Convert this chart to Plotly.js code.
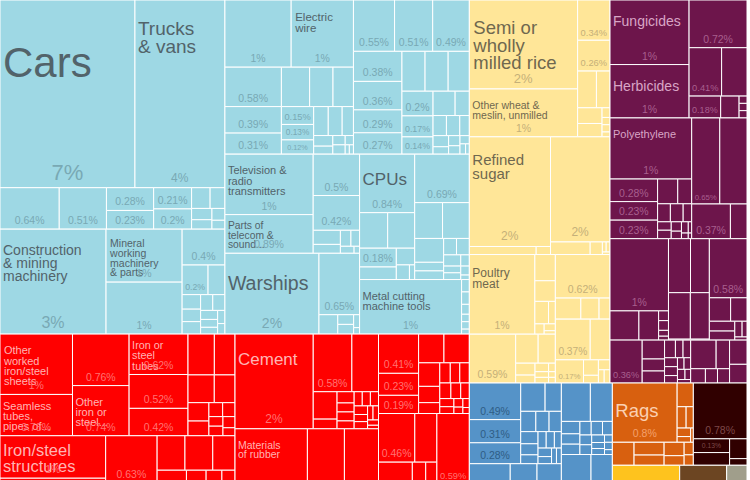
<!DOCTYPE html>
<html><head><meta charset="utf-8">
<script src="https://cdn.plot.ly/plotly-3.0.1.min.js"></script>
<style>
html,body{margin:0;padding:0;overflow:hidden;background:#fff;width:750px;height:480px}
#wrap{width:750px;height:480px;overflow:hidden}
#chart{width:750px;height:520px}
</style>
</head><body><div id="wrap"><div id="chart"></div></div>
<script>
// ---- sectors ----
const sectorIds = ["mach","manuf","food","chem","misc","crude","fuel","bev","oil","oth"];

// ---- product values (% of exports), per product group, largest first ----
const vehicles = [6.6, 4.4, 0.64, 0.51, 0.28, 0.23, 0.21, 0.2, 0.1, 0.08, 0.06, 0.05, 0.04, 0.03];
const vehiclesNames = ["Cars", "Trucks<br>& vans"];
const vehiclesShares = ["7%", "4%", "0.64%", "0.51%", "0.28%", "0.23%", "0.21%", "0.2%"];

const special = [2.9, 1.05, 1.03, 0.4, 0.2, 0.13, 0.07, 0.06, 0.06, 0.05, 0.05, 0.04, 0.035, 0.03, 0.025, 0.02];
const specialNames = ["Construction<br>& mining<br>machinery", "Mineral<br>working<br>machinery<br>& parts"];
const specialShares = ["3%", "1%", "1%", "0.4%", "0.2%"];

const electrical = [1.16, 1.09, 0.58, 0.39, 0.31, 0.29, 0.24, 0.21, 0.15, 0.13, 0.12, 0.11, 0.105, 0.085, 0.053, 0.04, 0.03, 0.03, 0.02, 0.01, 0.01];
const electricalNames = ["", "Electric<br>wire"];
const electricalShares = ["1%", "1%", "0.58%", "0.39%", "0.31%", "", "", "", "0.15%", "0.13%", "0.12%"];

const general = [0.55, 0.51, 0.49, 0.38, 0.36, 0.29, 0.27, 0.24, 0.24, 0.22, 0.2, 0.17, 0.14, 0.14, 0.09, 0.07, 0.07, 0.05, 0.045, 0.03, 0.03, 0.025, 0.02, 0.015, 0.01];
const generalShares = ["0.55%", "0.51%", "0.49%", "0.38%", "0.36%", "0.29%", "0.27%", "", "", "", "0.2%", "0.17%", "0.14%"];

const telecom = [1.39, 0.89, 0.5, 0.42, 0.1, 0.063, 0.044, 0.036, 0.025, 0.01];
const telecomNames = ["Television &<br>radio<br>transmitters", "Parts of<br>telecom &<br>sound..."];
const telecomShares = ["1%", "0.89%", "0.5%", "0.42%"];

const transport = [1.98, 0.65, 0.095, 0.04, 0.04, 0.02, 0.01];
const transportNames = ["Warships"];
const transportShares = ["2%", "0.65%"];

const officeA = [0.84, 0.26, 0.25, 0.18, 0.12, 0.08, 0.05, 0.02];
const officeANames = ["CPUs"];
const officeAShares = ["0.84%", "", "", "0.18%"];

const officeB = [0.69, 0.26, 0.25, 0.18, 0.065, 0.065, 0.055, 0.055, 0.05, 0.03, 0.03, 0.025, 0.02, 0.01];
const officeBShares = ["0.69%"];

const metalwork = [1.45, 0.025, 0.025, 0.02, 0.015, 0.015, 0.01];
const metalworkNames = ["Metal cutting<br>machine tools"];
const metalworkShares = ["1%"];

const ironSteel = [1.14, 0.78, 0.76, 0.74, 0.62, 0.52, 0.42, 0.28, 0.22, 0.19, 0.15, 0.1, 0.08, 0.05, 0.045, 0.035, 0.035, 0.035, 0.025];
const ironSteelNames = ["Other<br>worked<br>iron/steel<br>sheets", "Seamless<br>tubes,<br>pipes of...", "", "Other<br>iron or<br>steel...", "Iron or<br>steel<br>tubes"];
const ironSteelShares = ["1%", "0.78%", "0.76%", "0.74%", "0.62%", "0.52%", "0.42%"];

const metalManuf = [1.17, 1.15, 0.63, 0.5, 0.25, 0.25, 0.2, 0.2, 0.18, 0.15, 0.12, 0.1, 0.08, 0.06, 0.05, 0.04, 0.03];
const metalManufNames = ["Iron/steel<br>structures"];
const metalManufShares = ["1%", "", "0.63%"];

const mineralManuf = [1.93, 0.58, 0.40, 0.17, 0.06, 0.05, 0.04, 0.04, 0.035, 0.03, 0.03, 0.03, 0.03, 0.025, 0.025, 0.02, 0.02, 0.015, 0.01];
const mineralManufNames = ["Cement"];
const mineralManufShares = ["2%", "0.58%"];

const rubber = [1.72, 0.88, 0.81];
const rubberNames = ["Materials<br>of rubber"];

const textiles = [0.41, 0.23, 0.19, 0.19, 0.19, 0.13, 0.09, 0.06, 0.055, 0.05, 0.05, 0.045, 0.04, 0.035, 0.03, 0.025, 0.02, 0.015, 0.015, 0.01];
const textilesShares = ["0.41%", "0.23%", "0.19%"];

const paper = [0.46, 0.28, 0.2, 0.17, 0.14, 0.12, 0.1, 0.08, 0.04, 0.03];
const paperShares = ["0.46%"];

const nonFerrous = [0.59, 0.12, 0.1, 0.06, 0.03];
const nonFerrousShares = ["0.59%"];

const cereals = [2.51, 1.35, 0.34, 0.26, 0.18, 0.13, 0.1, 0.085, 0.02, 0.015, 0.015, 0.01];
const cerealsNames = ["Semi or<br>wholly<br>milled rice", "Other wheat &<br>meslin, unmilled"];
const cerealsShares = ["2%", "1%", "0.34%", "0.26%"];

const sugar = [2.32, 0.14, 0.03];
const sugarNames = ["Refined<br>sugar"];
const sugarShares = ["2%"];

const starch = [1.63, 0.13, 0.04, 0.01, 0.01, 0.005];
const starchShares = ["2%"];

const meat = [1.36, 0.14, 0.11, 0.08, 0.04, 0.025, 0.02, 0.01];
const meatNames = ["Poultry<br>meat"];
const meatShares = ["1%"];

const fish = [0.59, 0.17, 0.13, 0.06, 0.04, 0.03, 0.02, 0.02, 0.015, 0.01, 0.01];
const fishShares = ["0.59%"];

const fruit = [0.62, 0.14, 0.1, 0.06];
const fruitShares = ["0.62%"];

const vegetables = [0.37, 0.21, 0.17, 0.06, 0.03, 0.03, 0.02, 0.02];
const vegetablesShares = ["0.37%", "", "0.17%"];

const pesticides = [1.33, 1.10, 0.72, 0.41, 0.32, 0.18, 0.105, 0.015, 0.015, 0.015];
const pesticidesNames = ["Fungicides", "Herbicides"];
const pesticidesShares = ["1%", "1%", "0.72%", "0.41%", "", "0.18%"];

const plastics = [1.3, 0.28, 0.23, 0.23, 0.13, 0.09, 0.06, 0.06, 0.04, 0.03, 0.03, 0.025, 0.02, 0.02, 0.01, 0.01, 0.005];
const plasticsNames = ["Polyethylene"];
const plasticsShares = ["1%", "0.28%", "0.23%", "0.23%"];

const plastics2 = [0.63, 0.61, 0.35, 0.15];
const plastics2Shares = ["0.65%", "", "0.37%"];

const organic = [1.1, 0.22, 0.15, 0.025, 0.025, 0.015, 0.01];
const organicShares = ["1%"];

const inorganic = [0.31, 0.265, 0.265, 0.23, 0.01];

const pharma = [0.58, 0.13, 0.1, 0.065, 0.06, 0.03, 0.02, 0.01];
const pharmaShares = ["0.58%"];

const chemOther = [0.36, 0.11, 0.07, 0.07, 0.05, 0.035, 0.035, 0.03, 0.03, 0.025, 0.02, 0.02, 0.02, 0.015, 0.012];
const chemOtherShares = ["0.36%"];

const perfumes = [0.19, 0.1, 0.055, 0.045, 0.045];
const dyes = [0.11, 0.085];

const miscA = [0.49, 0.31, 0.28, 0.18, 0.12, 0.08, 0.07, 0.065, 0.055, 0.05, 0.04, 0.035, 0.035, 0.03, 0.03, 0.025, 0.02, 0.02];
const miscAShares = ["0.49%", "0.31%", "0.28%"];
const miscB = [0.36, 0.24, 0.22, 0.2, 0.13, 0.1, 0.1];
const miscC = [0.29, 0.22, 0.06, 0.05, 0.05, 0.04, 0.04, 0.035, 0.03, 0.03, 0.025, 0.02, 0.02, 0.015, 0.015, 0.01];
const miscD = [0.25, 0.18, 0.14, 0.1, 0.08, 0.06, 0.04, 0.02];

const textileFibres = [1.0, 0.1, 0.05, 0.04, 0.03, 0.02, 0.01];
const textileFibresNames = ["Rags"];
const textileFibresShares = ["0.8%"];
const crudeOther = [0.13, 0.1, 0.08, 0.07, 0.05, 0.03, 0.025];

const fuels = [0.78, 0.13, 0.12, 0.09, 0.03];
const fuelsShares = ["0.78%", "0.13%"];

const beverages = [0.6, 0.36];
const oils = [0.5, 0.17];
const others = [0.29];

// ---- group table: [id, sector, values, names, shares] ----
const groups = [
  ["veh","mach",vehicles,vehiclesNames,vehiclesShares],
  ["spec","mach",special,specialNames,specialShares],
  ["elec","mach",electrical,electricalNames,electricalShares],
  ["gen","mach",general,[],generalShares],
  ["tel","mach",telecom,telecomNames,telecomShares],
  ["trans","mach",transport,transportNames,transportShares],
  ["offa","mach",officeA,officeANames,officeAShares],
  ["offb","mach",officeB,[],officeBShares],
  ["metw","mach",metalwork,metalworkNames,metalworkShares],
  ["iron","manuf",ironSteel,ironSteelNames,ironSteelShares],
  ["metman","manuf",metalManuf,metalManufNames,metalManufShares],
  ["cem","manuf",mineralManuf,mineralManufNames,mineralManufShares],
  ["rub","manuf",rubber,rubberNames,[]],
  ["tex","manuf",textiles,[],textilesShares],
  ["pap","manuf",paper,[],paperShares],
  ["nfe","manuf",nonFerrous,[],nonFerrousShares],
  ["cer","food",cereals,cerealsNames,cerealsShares],
  ["sug","food",sugar,sugarNames,sugarShares],
  ["sta","food",starch,[],starchShares],
  ["meat","food",meat,meatNames,meatShares],
  ["fish","food",fish,[],fishShares],
  ["fru","food",fruit,[],fruitShares],
  ["veg","food",vegetables,[],vegetablesShares],
  ["pest","chem",pesticides,pesticidesNames,pesticidesShares],
  ["pla","chem",plastics,plasticsNames,plasticsShares],
  ["pla2","chem",plastics2,[],plastics2Shares],
  ["org","chem",organic,[],organicShares],
  ["inorg","chem",inorganic,[],[]],
  ["pha","chem",pharma,[],pharmaShares],
  ["cho","chem",chemOther,[],chemOtherShares],
  ["per","chem",perfumes,[],[]],
  ["dye","chem",dyes,[],[]],
  ["mia","misc",miscA,[],miscAShares],
  ["mib","misc",miscB,[],[]],
  ["mic","misc",miscC,[],[]],
  ["mid","misc",miscD,[],[]],
  ["crd","crude",textileFibres,textileFibresNames,textileFibresShares],
  ["crd2","crude",crudeOther,[],[]],
  ["fue","fuel",fuels,[],fuelsShares],
  ["bev","bev",beverages,[],[]],
  ["oil","oil",oils,[],[]],
  ["oth","oth",others,[],[]]
];

// ---- styles ----
const sectorColor = {mach:"#9ed8e4", manuf:"#ff0000", food:"#ffe698", chem:"#6d154b", misc:"#5593c8", crude:"#d8600f", fuel:"#300000", bev:"#fec31e", oil:"#6c4522", oth:"#a09e8b"};
const nameColor = {mach:"#52636a", manuf:"#ffb4b4", food:"#6f684f", chem:"#d9a5c6", misc:"#1f4c70", crude:"#fbd0b2", fuel:"#8a5a5a", bev:"#7a5a00", oil:"#c0a080", oth:"#555"};
const shareColor = {mach:"#79a9b4", manuf:"#ff7272", food:"#c5b079", chem:"#a85f8e", misc:"#2f5d85", crude:"#f4a06c", fuel:"#7d4848", bev:"#b08000", oil:"#a07850", oth:"#777"};
const nameSize = {
  "Cars":42, "Trucks<br>& vans":19, "Construction<br>& mining<br>machinery":14,
  "Mineral<br>working<br>machinery<br>& parts":10.5, "Electric<br>wire":11.5,
  "Television &<br>radio<br>transmitters":11, "Parts of<br>telecom &<br>sound...":11,
  "CPUs":17, "Warships":19.5, "Metal cutting<br>machine tools":11,
  "Iron/steel<br>structures":16.5, "Cement":17, "Materials<br>of rubber":10.5,
  "Semi or<br>wholly<br>milled rice":18.5, "Other wheat &<br>meslin, unmilled":10.5,
  "Refined<br>sugar":15, "Poultry<br>meat":12, "Fungicides":14, "Herbicides":14,
  "Polyethylene":11, "Rags":18.5
};
const spacerOverride = {
  "Parts of<br>telecom &<br>sound...": 2, "Seamless<br>tubes,<br>pipes of...": 2,
  "Iron or<br>steel<br>tubes": 2, "Mineral<br>working<br>machinery<br>& parts": 5,
  "Iron/steel<br>structures": 2
};
const shareSizeOverride = {"veh-0":22, "veh-1":12, "spec-0":16, "trans-0":14, "cer-0":13, "sug-0":12, "sta-0":12, "cem-0":12};
const FONT = "'Liberation Sans', Arial, sans-serif";
const LINE_FACTOR = 0.72;   // base size for Plotly's 1.3em line step -> ~0.94 line spacing

function buildLabel(nm, fs) {
  const spacer = (spacerOverride[nm] || Math.max(2, fs * 1.0 - 3.3)).toFixed(1);
  const lines = nm.split("<br>").map(l => '<span style="font-size:' + fs + 'px">' + l + '</span>');
  return '<span style="font-size:' + spacer + 'px">\u00a0</span><br>' + lines.join("<br>");
}

// ---- build hierarchy ----
const ids = ["root"], parents = [""], values = [0], colors = ["#ffffff"];
const nameText = [""], shareText = [""], nSize = [10], sSize = [10], nCol = ["#000"], sCol = ["#000"];
function pushNode(id, parent, v, sec, name, share, ns, ss) {
  ids.push(id); parents.push(parent); values.push(v); colors.push(sectorColor[sec]);
  nameText.push(name); shareText.push(share); nSize.push(ns); sSize.push(ss);
  nCol.push(nameColor[sec]); sCol.push(shareColor[sec]);
}
sectorIds.forEach(s => pushNode(s, "root", 0, s, "", "", 10, 10));
groups.forEach(([gid, sec, vals, names, shares]) => {
  pushNode("g-" + gid, sec, 0, sec, "", "", 10, 10);
  vals.forEach((v, i) => {
    const nm = names[i] || "";
    const fs = nm ? (nameSize[nm] || 11) : 10;
    const label = nm ? buildLabel(nm, fs) : "";
    const sid = gid + "-" + i;
    pushNode(sid, "g-" + gid, v, sec, label, shares[i] || "", +(fs * LINE_FACTOR).toFixed(2), shareSizeOverride[sid] || 10.5);
  });
});

const common = {
  type: "treemap", ids: ids, labels: ids, parents: parents, values: values,
  branchvalues: "remainder", sort: true,
  tiling: {packing: "squarify", squarifyratio: 1.618034, pad: 0},
  pathbar: {visible: false}, hoverinfo: "skip", texttemplate: "%{text}"
};
const namesTrace = Object.assign({}, common, {
  text: nameText, textposition: "top left",
  marker: {colors: colors, line: {color: "#ffffff", width: 1}, pad: {t: 0, l: 0, r: 0, b: 0}},
  leaf: {opacity: 1},
  textfont: {family: FONT, size: nSize, color: nCol}
});
const sharesTrace = Object.assign({}, common, {
  text: shareText, textposition: "bottom center",
  marker: {colors: ids.map(() => "rgba(0,0,0,0)"), line: {color: "rgba(0,0,0,0)", width: 0}, pad: {t: 0, l: 0, r: 0, b: 0}},
  leaf: {opacity: 1},
  textfont: {family: FONT, size: sSize, color: sCol}
});

Plotly.newPlot("chart", [namesTrace, sharesTrace], {
  width: 750, height: 520, margin: {l: 0, r: 3, t: 0, b: 0},
  paper_bgcolor: "#ffffff", showlegend: false
}, {displayModeBar: false, staticPlot: true});
</script>
</body></html>
